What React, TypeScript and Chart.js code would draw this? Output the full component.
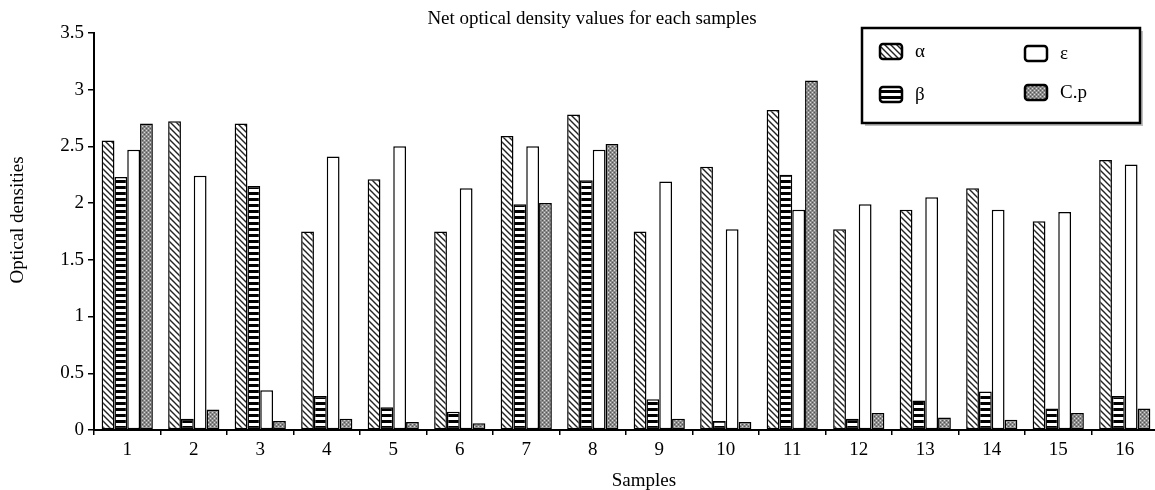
import React, { useEffect, useRef } from "react";
import { Chart, registerables } from "chart.js";

Chart.register(...registerables);

const categories = ["1", "2", "3", "4", "5", "6", "7", "8", "9", "10", "11", "12", "13", "14", "15", "16"];
const seriesNames = ["α", "β", "ε", "C.p"];
const alphaValues = [2.55, 2.72, 2.7, 1.75, 2.21, 1.75, 2.59, 2.78, 1.75, 2.32, 2.82, 1.77, 1.94, 2.13, 1.84, 2.38];
const betaValues = [2.23, 0.1, 2.15, 0.3, 0.2, 0.16, 1.99, 2.2, 0.27, 0.08, 2.25, 0.1, 0.26, 0.34, 0.19, 0.3];
const epsilonValues = [2.47, 2.24, 0.35, 2.41, 2.5, 2.13, 2.5, 2.47, 2.19, 1.77, 1.94, 1.99, 2.05, 1.94, 1.92, 2.34];
const cpValues = [2.7, 0.18, 0.08, 0.1, 0.07, 0.06, 2.0, 2.52, 0.1, 0.07, 3.08, 0.15, 0.11, 0.09, 0.15, 0.19];
const yTicks = { min: 0, max: 3.5, step: 0.5 };
const titleText = "Net optical density values for each samples";
const yTitle = "Optical densities";
const xTitle = "Samples";

const SERIF = "'Liberation Serif', 'DejaVu Serif', serif";
const FONT_SIZE = 19;

function makeTile(w: number, h: number, draw: (c: CanvasRenderingContext2D) => void) {
  const cv = document.createElement("canvas");
  cv.width = w;
  cv.height = h;
  const c = cv.getContext("2d")!;
  draw(c);
  return c.createPattern(cv, "repeat")!;
}

function makePatterns() {
  const alpha = makeTile(6, 6, (c) => {
    c.fillStyle = "#fff";
    c.fillRect(0, 0, 6, 6);
    c.strokeStyle = "#222";
    c.lineWidth = 1.4;
    c.beginPath();
    c.moveTo(-1, -1);
    c.lineTo(7, 7);
    c.moveTo(-1, 5);
    c.lineTo(1, 7);
    c.moveTo(5, -1);
    c.lineTo(7, 1);
    c.stroke();
  });
  const beta = makeTile(4, 6, (c) => {
    c.fillStyle = "#fff";
    c.fillRect(0, 0, 4, 6);
    c.fillStyle = "#000";
    c.fillRect(0, 0, 4, 3);
  });
  const eps = "#ffffff";
  const cp = makeTile(4, 4, (c) => {
    c.fillStyle = "#8c8c8c";
    c.fillRect(0, 0, 4, 4);
    c.fillStyle = "#d8d8d8";
    c.fillRect(0, 0, 1, 1);
    c.fillRect(2, 2, 1, 1);
    c.fillStyle = "#555";
    c.fillRect(2, 0, 1, 1);
    c.fillRect(0, 2, 1, 1);
  });
  return [alpha, beta, eps, cp];
}

export default function App() {
  const canvasRef = useRef<HTMLCanvasElement | null>(null);

  useEffect(() => {
    if (!canvasRef.current) return;
    const fills = makePatterns();
    const values = [alphaValues, betaValues, epsilonValues, cpValues];

    const overlayPlugin = {
      id: "overlay",
      afterDraw(chart: any) {
        const ctx = chart.ctx as CanvasRenderingContext2D;
        // y title
        ctx.save();
        ctx.fillStyle = "#000";
        ctx.font = `${FONT_SIZE}px ${SERIF}`;
        ctx.textAlign = "center";
        ctx.textBaseline = "middle";
        ctx.translate(18, 220);
        ctx.rotate(-Math.PI / 2);
        ctx.fillText(yTitle, 0, 0);
        ctx.restore();

        // x title
        ctx.save();
        ctx.fillStyle = "#000";
        ctx.font = `${FONT_SIZE}px ${SERIF}`;
        ctx.textAlign = "center";
        ctx.textBaseline = "alphabetic";
        ctx.fillText(xTitle, 644, 486);
        ctx.restore();

        // legend box
        ctx.save();
        const bx = 862, by = 28, bw = 278, bh = 95;
        ctx.fillStyle = "rgba(0,0,0,0.25)";
        ctx.fillRect(bx + 3, by + 3, bw, bh);
        ctx.fillStyle = "#fff";
        ctx.fillRect(bx, by, bw, bh);
        ctx.strokeStyle = "#000";
        ctx.lineWidth = 2.5;
        ctx.strokeRect(bx, by, bw, bh);
        const items = [
          { x: 880, y: 44, lx: 915 },
          { x: 880, y: 87, lx: 915 },
          { x: 1025, y: 46, lx: 1060 },
          { x: 1025, y: 85, lx: 1060 },
        ];
        items.forEach((it, i) => {
          const w = 22, h = 15;
          ctx.beginPath();
          if ((ctx as any).roundRect) (ctx as any).roundRect(it.x, it.y, w, h, 3);
          else ctx.rect(it.x, it.y, w, h);
          ctx.fillStyle = fills[i] as any;
          ctx.fill();
          ctx.lineWidth = 2.5;
          ctx.strokeStyle = "#000";
          ctx.stroke();
          ctx.fillStyle = "#000";
          ctx.font = `${FONT_SIZE}px ${SERIF}`;
          ctx.textAlign = "left";
          ctx.textBaseline = "middle";
          ctx.fillText(seriesNames[i], it.lx, it.y + h / 2 + 1);
        });
        ctx.restore();
      },
    };

    const chart = new Chart(canvasRef.current, {
      type: "bar",
      data: {
        labels: categories,
        datasets: seriesNames.map((name, i) => ({
          label: name,
          data: values[i],
          backgroundColor: fills[i] as any,
          borderColor: "#000",
          borderWidth: 1.5,
          borderSkipped: false,
          categoryPercentage: 0.77,
          barPercentage: 1.0,
        })),
      },
      options: {
        animation: false,
        responsive: true,
        maintainAspectRatio: false,
        layout: { padding: { left: 26, right: 2, top: 0, bottom: 0 } },
        plugins: {
          legend: { display: false },
          tooltip: { enabled: false },
          title: {
            display: true,
            text: titleText,
            color: "#000",
            font: { family: SERIF, size: FONT_SIZE, weight: "normal" },
            padding: { top: 8, bottom: 2 },
          },
        },
        scales: {
          x: {
            type: "category",
            grid: { display: true, drawOnChartArea: false, drawTicks: true, tickLength: 5, color: "#000", lineWidth: 1.5 },
            border: { display: true, color: "#000", width: 2 },
            ticks: { color: "#000", font: { family: SERIF, size: FONT_SIZE }, padding: 4, maxRotation: 0, autoSkip: false },
            afterFit: (scale: any) => {
              scale.height = 60;
            },
          },
          y: {
            min: yTicks.min,
            max: yTicks.max,
            grid: { display: true, drawOnChartArea: false, drawTicks: true, tickLength: 6, color: "#000", lineWidth: 1.5 },
            border: { display: true, color: "#000", width: 2 },
            ticks: {
              stepSize: yTicks.step,
              color: "#000",
              font: { family: SERIF, size: FONT_SIZE },
              padding: 4,
              callback: (v: any) => String(Number(v)),
            },
            afterFit: (scale: any) => {
              scale.width = 68;
            },
          },
        },
      },
      plugins: [overlayPlugin],
    } as any);

    return () => chart.destroy();
  }, []);

  return (
    <div style={{ position: "absolute", left: 0, top: 0, width: 1155, height: 490, overflow: "hidden", background: "#fff" }}>
      <div style={{ position: "relative", width: 1160, height: 490 }}>
        <canvas ref={canvasRef} />
      </div>
    </div>
  );
}
